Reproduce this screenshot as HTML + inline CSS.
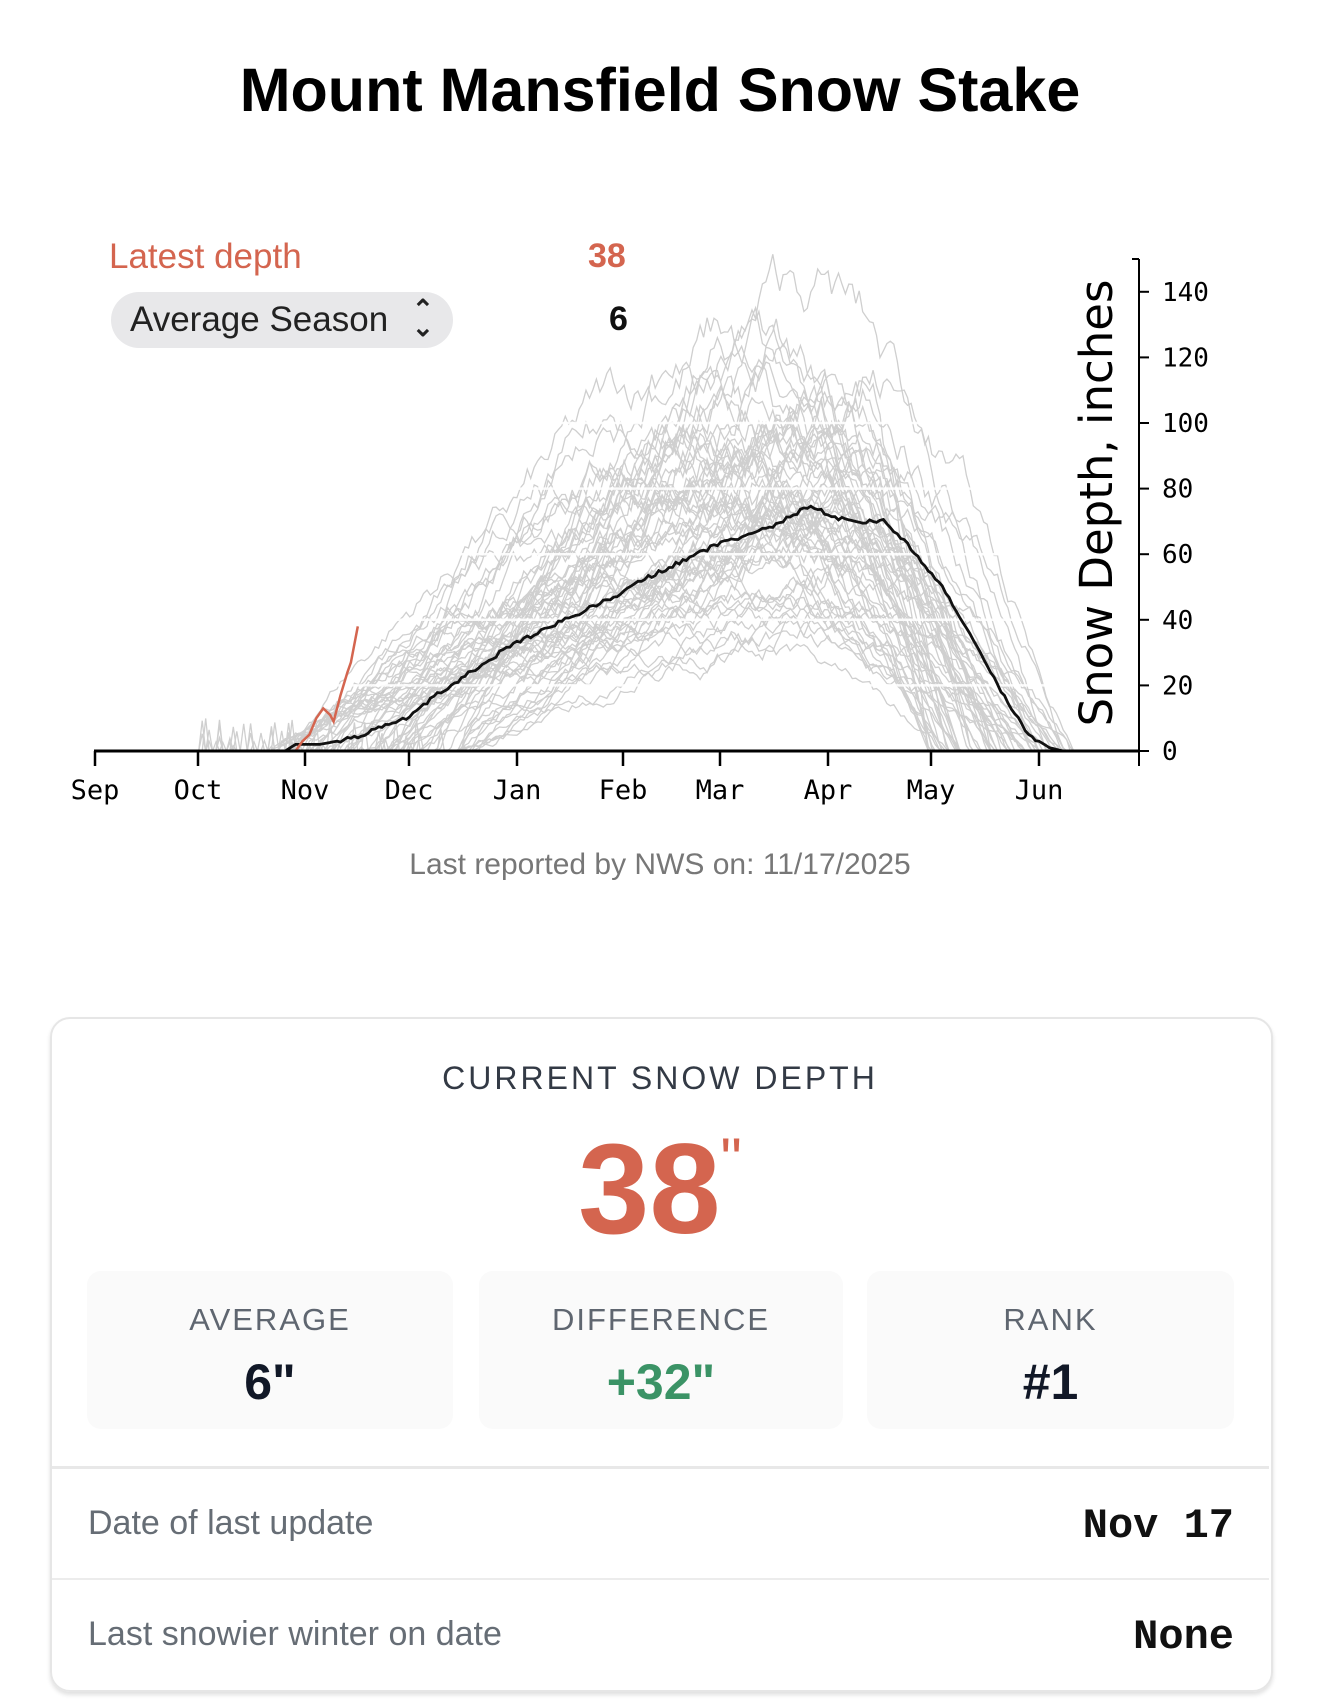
<!DOCTYPE html>
<html><head><meta charset="utf-8"><style>
body{margin:0;width:1320px;height:1705px;background:#fff;font-family:"Liberation Sans",sans-serif;position:relative;overflow:hidden}
.a{position:absolute}
.mono{font-family:"Liberation Mono",monospace}
</style></head><body>
<div class="a" style="left:0;width:1320px;top:55px;text-align:center;font-size:61px;font-weight:bold;color:#000">Mount Mansfield Snow Stake</div>
<svg class="a" style="left:0;top:0" width="1320" height="900" id="s"></svg>
<div class="a" style="left:109px;top:237px;font-size:35px;color:#d4654f">Latest depth</div>
<div class="a" style="left:588px;top:237px;font-size:34px;color:#d4654f;font-weight:bold">38</div>
<div class="a" style="left:111px;top:292px;width:342px;height:56px;border-radius:28px;background:#e8e8ea;"></div>
<div class="a" style="left:130px;top:300px;font-size:35px;color:#222">Average Season</div>
<div class="a" style="left:412px;top:300px;font-size:26px;color:#222;line-height:18px;font-weight:bold">&#8963;<br>&#8964;</div>
<div class="a" style="left:609px;top:300px;font-size:34px;color:#111;font-weight:bold">6</div>
<div class="a" style="left:0;width:1320px;top:848px;text-align:center;font-size:30px;color:#777">Last reported by NWS on: 11/17/2025</div>

<div class="a" style="left:50px;top:1017px;width:1219px;height:671px;border:2px solid #e6e6e6;border-radius:20px;box-shadow:0 3px 4px rgba(0,0,0,0.12)"></div>
<div class="a" style="left:0;width:1320px;top:1060px;text-align:center;font-size:32px;letter-spacing:3px;color:#333a45">CURRENT SNOW DEPTH</div>
<div class="a" style="left:0;width:1320px;top:1120px;text-align:center;font-size:128px;font-weight:bold;color:#d4654f;line-height:140px">38<span style="font-size:60px;vertical-align:top;line-height:80px;font-weight:normal">"</span></div>
<div class="a" style="left:87px;top:1271px;width:366px;height:158px;background:#fafafa;border-radius:14px"></div>
<div class="a" style="left:479px;top:1271px;width:364px;height:158px;background:#fafafa;border-radius:14px"></div>
<div class="a" style="left:867px;top:1271px;width:367px;height:158px;background:#fafafa;border-radius:14px"></div>
<div class="a" style="left:87px;width:366px;top:1302px;text-align:center;font-size:31px;letter-spacing:2px;color:#5f6670">AVERAGE</div>
<div class="a" style="left:479px;width:364px;top:1302px;text-align:center;font-size:31px;letter-spacing:2px;color:#5f6670">DIFFERENCE</div>
<div class="a" style="left:867px;width:367px;top:1302px;text-align:center;font-size:31px;letter-spacing:2px;color:#5f6670">RANK</div>
<div class="a" style="left:87px;width:366px;top:1353px;text-align:center;font-size:50px;font-weight:bold;color:#111827">6"</div>
<div class="a" style="left:479px;width:364px;top:1353px;text-align:center;font-size:50px;font-weight:bold;color:#3b9366">+32"</div>
<div class="a" style="left:867px;width:367px;top:1353px;text-align:center;font-size:50px;font-weight:bold;color:#111827">#1</div>
<div class="a" style="left:52px;width:1217px;top:1466px;height:3px;background:#e8e8e8"></div>
<div class="a" style="left:52px;width:1217px;top:1578px;height:2px;background:#ececec"></div>
<div class="a" style="left:88px;top:1504px;font-size:34px;color:#666d75">Date of last update</div>
<div class="a mono" style="right:86px;top:1502px;font-size:42px;font-weight:bold;color:#111">Nov 17</div>
<div class="a" style="left:88px;top:1615px;font-size:34px;color:#666d75">Last snowier winter on date</div>
<div class="a mono" style="right:86px;top:1613px;font-size:42px;font-weight:bold;color:#111">None</div>
<script>
var s=document.getElementById('s'),NS='http://www.w3.org/2000/svg';
function X(d){return 95+d*3.458}function Y(v){return 751-v*3.28}
function el(t,a,txt){var e=document.createElementNS(NS,t);for(var k in a)e.setAttribute(k,a[k]);if(txt)e.textContent=txt;s.appendChild(e);return e}
var seed=7;function r(){seed=(seed*16807)%2147483647;return seed/2147483647}
for(var i=0;i<65;i++){
 var st=50+r()*60,pk=165+r()*65,ph=35+r()*80,en=240+r()*45;if(i==3)ph=125;if(i==9)ph=140;
 var pts=[],n=0;
 for(var d=0;d<300;d++){
  var base;if(d<st)base=0;else if(d<pk)base=ph*Math.pow((d-st)/(pk-st),0.8);else if(d<en)base=ph*(1-Math.pow((d-pk)/(en-pk),1.6));else base=0;
  n=n*0.95+(r()-0.5)*4;var val=base>0?Math.max(0,base+n*(0.4+base/50)):0;
  if(d>30&&d<st&&r()<0.02)val=r()*10;
  pts.push(X(d).toFixed(1)+','+Y(val).toFixed(1));}
 el('polyline',{points:pts.join(' '),fill:'none',stroke:'#cfcfcf','stroke-width':1.3});
}
[20,40,60,80,100].forEach(function(v){el('line',{x1:300,x2:1090,y1:Y(v),y2:Y(v),stroke:'#fff','stroke-width':2.5,opacity:0.9})});
var avg=[[0,0],[55,0],[58,2],[65,2],[70,3],[75,4],[90,10],[100,18],[120,32],[150,47],[160,53],[180,63],[195,68],[207,75],[212,72],[218,70],[228,70],[235,63],[245,50],[255,32],[262,18],[270,5],[276,1],[280,0],[300,0]];
var ap=[];for(var k=0;k<avg.length-1;k++){for(var d=avg[k][0];d<avg[k+1][0];d++){var t=(d-avg[k][0])/(avg[k+1][0]-avg[k][0]);var v=avg[k][1]+t*(avg[k+1][1]-avg[k][1]);if(v>3)v+=(r()-0.5)*1.2;ap.push(X(d).toFixed(1)+','+Y(v).toFixed(1));}}
el('polyline',{points:ap.join(' '),fill:'none',stroke:'#111','stroke-width':2.8});
var red=[[0,0],[58,0],[60,3],[62,5],[64,10],[66,13],[68,11],[69,9],[71,17],[73,24],[74,27],[76,38]];
el('polyline',{points:red.map(function(p){return X(p[0])+','+Y(p[1])}).join(' '),fill:'none',stroke:'#d4654f','stroke-width':2.5});
el('line',{x1:94,x2:1140,y1:751,y2:751,stroke:'#000','stroke-width':3});
el('line',{x1:1139,x2:1139,y1:259,y2:766,stroke:'#000','stroke-width':2});
el('line',{x1:1139,x2:1132,y1:259,y2:259,stroke:'#000','stroke-width':2});
var m=['Sep','Oct','Nov','Dec','Jan','Feb','Mar','Apr','May','Jun'],mx=[95,198,305,409,517,623,720,828,931,1039];
m.forEach(function(t,i){el('line',{x1:mx[i],x2:mx[i],y1:751,y2:766,stroke:'#000','stroke-width':2.5});
 el('text',{x:mx[i],y:799,'text-anchor':'middle','font-family':'DejaVu Sans Mono, monospace','font-size':27,fill:'#000'},t)});
for(var v=0;v<=140;v+=20){el('line',{x1:1139,x2:1149,y1:Y(v),y2:Y(v),stroke:'#000','stroke-width':2});
 el('text',{x:1162,y:Y(v)+9,'font-family':'DejaVu Sans Mono, monospace','font-size':26,fill:'#000'},''+v)}
el('text',{x:0,y:0,transform:'translate(1112,503) rotate(-90)','text-anchor':'middle','font-family':'DejaVu Sans, sans-serif','font-size':45,fill:'#000'},'Snow Depth, inches');
</script>
</body></html>
